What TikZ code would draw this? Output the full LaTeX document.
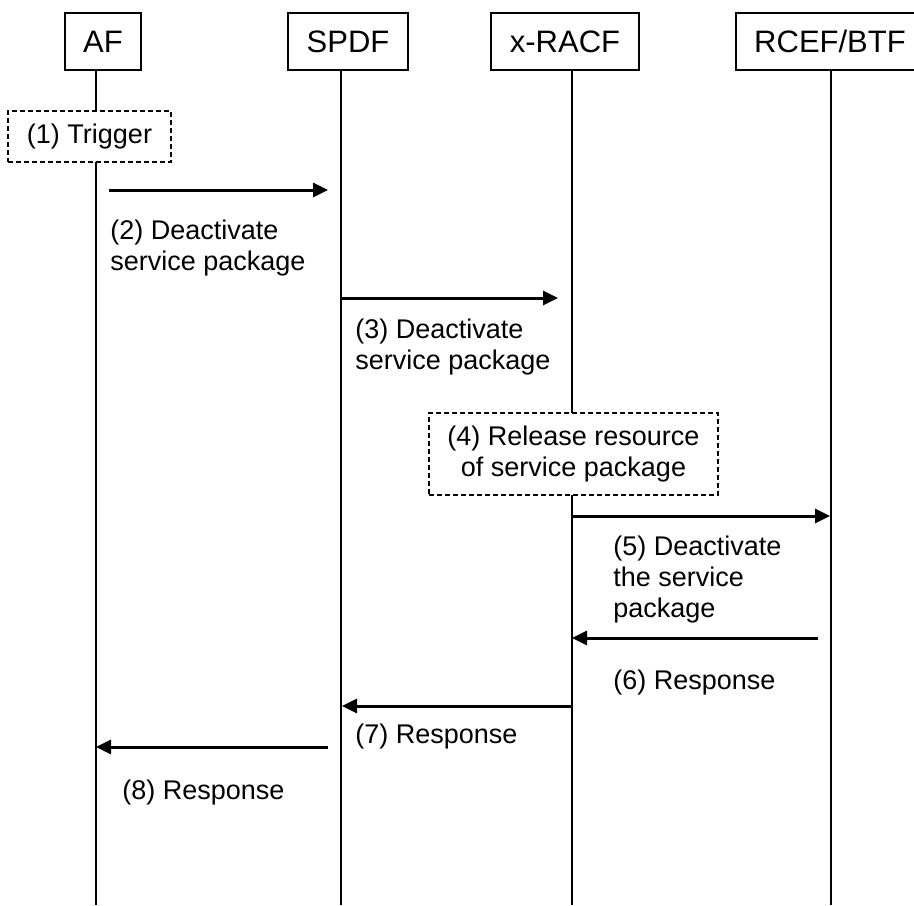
\documentclass[tikz,border=0pt]{standalone}
\usepackage{fontspec}
\setmainfont{Liberation Sans}
\usetikzlibrary{arrows.meta}

\tikzset{
    head/.style={draw, line width=1pt, minimum height=28.5pt, inner sep=0pt,
        font=\fontsize{15.5}{18}\selectfont},
    life/.style={line width=1pt},
    note/.style={draw, fill=white, line width=0.8pt, dash pattern=on 2.5pt off 1.5pt,
        inner sep=0pt, align=center, font=\fontsize{13.5}{15.5}\selectfont},
    msg/.style={line width=1.5pt, -{Triangle[length=7.5pt,width=7pt]}},
    lbl/.style={anchor=west, align=left, inner sep=0pt,
        font=\fontsize{13.5}{15.5}\selectfont}
}

\begin{document}
\begin{tikzpicture}[x=0.5pt, y=-0.5pt]
    % Fix the picture size
    \useasboundingbox (0,0) rectangle (914,905);

    % Draw the entity boxes
    \node[head, minimum width=38pt] (af) at (103,41.5) {AF};
    \node[head, minimum width=60pt] (spdf) at (348,41.5) {SPDF};
    \node[head, minimum width=74pt] (racf) at (565,41.5) {x-RACF};
    \node[head, minimum width=94pt] (rcef) at (830,41.5) {RCEF/BTF};

    % Bottom ends of the lifelines
    \coordinate (af-end) at (96,905);
    \coordinate (spdf-end) at (341,905);
    \coordinate (racf-end) at (572,905);
    \coordinate (rcef-end) at (831,905);

    % Draw the lifelines
    \draw[life] (af.south -| af-end) -- (af-end);
    \draw[life] (spdf.south -| spdf-end) -- (spdf-end);
    \draw[life] (racf.south -| racf-end) -- (racf-end);
    \draw[life] (rcef.south -| rcef-end) -- (rcef-end);

    % Dashed boxes for the local steps
    \node[note, minimum width=81.5pt, minimum height=25.5pt] (trigger) at (89.5,136.5) {(1) Trigger};
    \node[note, minimum width=144.5pt, minimum height=41pt] (release) at (573.5,454)
        {(4) Release resource\\of service package};

    % End points of the messages
    \coordinate (m2-from) at (109,190);
    \coordinate (m2-to) at (328,190);
    \coordinate (m3-from) at (341,298);
    \coordinate (m3-to) at (558,298);
    \coordinate (m5-from) at (572,516);
    \coordinate (m5-to) at (830,516);
    \coordinate (m6-from) at (818,638);
    \coordinate (m6-to) at (572,638);
    \coordinate (m7-from) at (572,706);
    \coordinate (m7-to) at (342,706);
    \coordinate (m8-from) at (328,747);
    \coordinate (m8-to) at (96,747);

    % Draw the messages
    \draw[msg] (m2-from) -- (m2-to);
    \draw[msg] (m3-from) -- (m3-to);
    \draw[msg] (m5-from) -- (m5-to);
    \draw[msg] (m6-from) -- (m6-to);
    \draw[msg] (m7-from) -- (m7-to);
    \draw[msg] (m8-from) -- (m8-to);

    % Message labels
    \node[lbl] (l2) at (110,248.5) {(2) Deactivate\\service package};
    \node[lbl] (l3) at (355,347.5) {(3) Deactivate\\service package};
    \node[lbl] (l5) at (613,580) {(5) Deactivate\\the service\\package};
    \node[lbl] (l6) at (613,683) {(6) Response};
    \node[lbl] (l7) at (355,737) {(7) Response};
    \node[lbl] (l8) at (122,793) {(8) Response};

\end{tikzpicture}
\end{document}
